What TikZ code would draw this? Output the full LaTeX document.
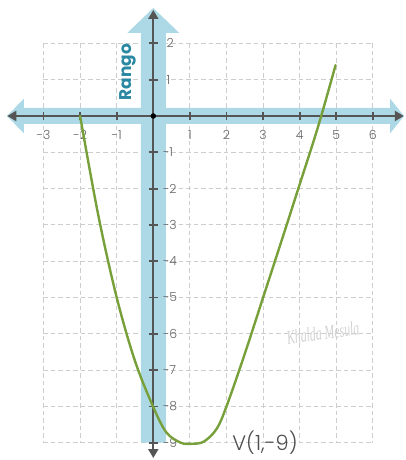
\documentclass[tikz,border=0pt]{standalone}
\usepackage{fontspec}
\setmainfont{Poppins}
\newfontfamily\lightfont{Poppins}[UprightFont={* Light}]
\newfontfamily\sigfont{Liberation Serif}
\usetikzlibrary{arrows.meta}
\definecolor{band}{RGB}{173,216,230}
\definecolor{axisc}{RGB}{85,85,85}
\definecolor{gridc}{RGB}{205,205,205}
\definecolor{curvec}{RGB}{119,160,58}
\definecolor{rangoc}{RGB}{42,136,163}
\definecolor{labc}{RGB}{100,100,100}
\definecolor{vlabc}{RGB}{80,80,80}
\begin{document}
\begin{tikzpicture}[x=36.6pt,y=36.3pt,
  gridline/.style={gridc, line width=0.9pt, dash pattern=on 4.5pt off 3pt},
  bandfill/.style={fill=band, draw=none},
  axisline/.style={axisc, line width=2.2pt},
  bothtips/.style={{Triangle[length=9pt,width=10pt]}-{Triangle[length=9pt,width=10pt]}},
  tickmark/.style={axisc, line width=1.8pt},
  xlab/.style={font=\lightfont\fontsize{12.5}{12.5}\selectfont, text=labc, anchor=center, inner sep=0pt},
  ylab/.style={font=\lightfont\fontsize{12.5}{12.5}\selectfont, text=labc, anchor=west, inner sep=0pt},
  curvestyle/.style={curvec, line width=2.4pt, line cap=round, line join=round}
]
\useasboundingbox (-153.3pt,116pt) rectangle (252.7pt,-344pt);

% grid
\foreach \x in {-3,...,6} \draw[gridline] (\x,2) -- (\x,-9);
\foreach \y in {2,1,...,-9} \draw[gridline] (-3,\y) -- (6,\y);

% light blue bands
\fill[bandfill] (-146.3pt,0) -- (-129.3pt,17.5pt) -- (-129.3pt,8pt) -- (236.7pt,8pt)
  -- (236.7pt,17.5pt) -- (250.7pt,0) -- (236.7pt,-17.5pt) -- (236.7pt,-8pt)
  -- (-129.3pt,-8pt) -- (-129.3pt,-17.5pt) -- cycle;
\fill[bandfill] (0,108pt) -- (26pt,83pt) -- (12.5pt,83pt) -- (12.5pt,-326.7pt)
  -- (-12.5pt,-326.7pt) -- (-12.5pt,83pt) -- (-26pt,83pt) -- cycle;

% axes
\coordinate (xl) at (-146pt,0);
\coordinate (xr) at (250.5pt,0);
\coordinate (yt) at (0,106pt);
\coordinate (yb) at (0,-342pt);
\draw[axisline, bothtips] (xl) -- (xr);
\draw[axisline, bothtips] (yt) -- (yb);

% ticks and labels
\foreach \x in {-3,-2,-1,1,2,3,4,5,6} {
  \draw[tickmark] (\x,-4pt) -- (\x,4pt);
  \node[xlab] (xl\x) at (\x,-19pt) {\x};
}
\foreach \y in {2,1} {
  \draw[tickmark] (-4.5pt,\y) -- (4.5pt,\y);
  \node[ylab] (yl\y) at (13pt,\y) {\y};
}
\foreach \y in {-1,-2,...,-9} {
  \draw[tickmark] (-4.5pt,\y) -- (4.5pt,\y);
  \node[ylab] (yl\y) at (9.5pt,\y) {\y};
}
\node[circle, fill=black, inner sep=0pt, minimum size=5.5pt] (o) at (0,0) {};

% Rango
\node[rotate=90, text=rangoc, font=\bfseries\fontsize{17}{17}\selectfont, inner sep=0pt] (rango) at (-25pt,44pt) {Rango};

% curve
\draw[curvestyle] plot[smooth, tension=0.55] coordinates {
  (-2,0) (-1.5,-2.75) (-1,-5) (-0.5,-6.75) (0,-8.02) (0.36,-8.72) (0.75,-9.0)
  (1.05,-9.03) (1.38,-8.97) (1.73,-8.62) (2,-8) (2.5,-6.55) (3,-5.0)
  (3.5,-3.45) (4,-1.88) (4.5,-0.3) (4.98,1.4)};

% vertex label
\node[text=vlabc, font=\lightfont\fontsize{21}{21}\selectfont, inner sep=0pt] (v) at (111.7pt,-327pt) {V(1,-9)};

% signature
\node[text=gray!35, font=\sigfont\itshape\fontsize{14}{14}\selectfont, rotate=8, xscale=0.85, yscale=1.4, inner sep=0pt] (sig) at (169.7pt,-217pt) {Khalda Mesula};
\end{tikzpicture}
\end{document}
